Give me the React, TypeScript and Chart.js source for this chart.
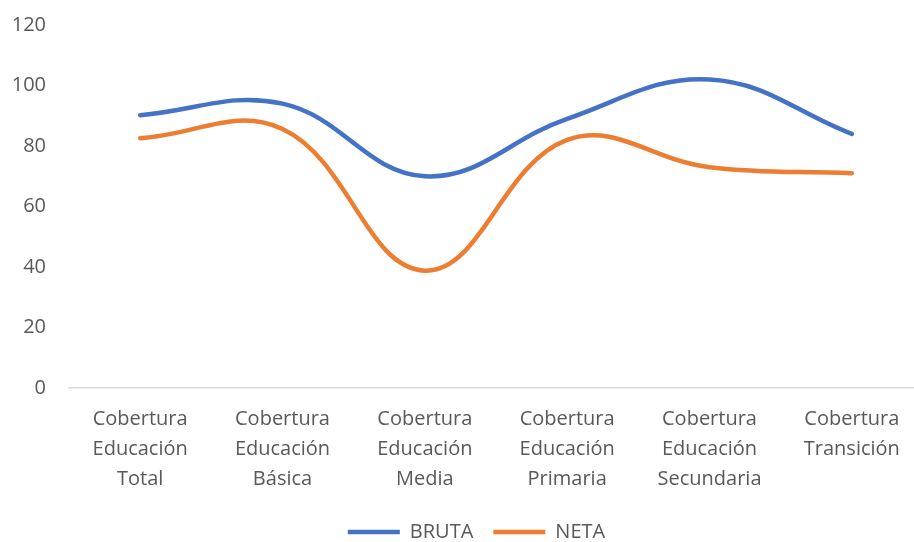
import React, { useEffect, useRef } from "react";
import { Chart, registerables } from "chart.js";

Chart.register(...registerables);

const categories: string[][] = [
  ["Cobertura", "Educación", "Total"],
  ["Cobertura", "Educación", "Básica"],
  ["Cobertura", "Educación", "Media"],
  ["Cobertura", "Educación", "Primaria"],
  ["Cobertura", "Educación", "Secundaria"],
  ["Cobertura", "Transición"],
];
const bruta: number[] = [90.2, 94, 70, 89, 102, 84];
const neta: number[] = [82.6, 85.6, 38.8, 82, 73, 71];
const yTicks: number[] = [0, 20, 40, 60, 80, 100, 120];

const FONT = "'Open Sans', 'Noto Sans', sans-serif";
const TEXT = "#595959";
const FS = 20;

export default function App() {
  const ref = useRef<HTMLCanvasElement | null>(null);
  useEffect(() => {
    if (!ref.current) return;
    const chart = new Chart(ref.current, {
      type: "line",
      data: {
        labels: categories,
        datasets: [
          {
            label: "BRUTA",
            data: bruta,
            borderColor: "#4472C4",
            backgroundColor: "#4472C4",
            borderWidth: 4.5,
            borderCapStyle: "round",
            pointRadius: 0,
            tension: 0.4,
            yAxisID: "y",
          },
          {
            label: "NETA",
            data: neta,
            borderColor: "#ED7D31",
            backgroundColor: "#ED7D31",
            borderWidth: 4.5,
            borderCapStyle: "round",
            pointRadius: 0,
            tension: 0.4,
            yAxisID: "y",
          },
        ],
      },
      options: {
        animation: false,
        responsive: false,
        maintainAspectRatio: false,
        layout: { padding: { top: 13, bottom: 0, left: 0, right: 0 } },
        plugins: {
          tooltip: { enabled: false },
          legend: {
            position: "bottom",
            labels: {
              usePointStyle: true,
              pointStyle: "line",
              pointStyleWidth: 52,
              padding: 20,
              color: TEXT,
              font: { family: FONT, size: FS },
            },
          },
        },
        scales: {
          x: {
            offset: true,
            grid: { display: false, drawTicks: false, offset: true },
            border: { display: true, color: "#D9D9D9", width: 1.5 },
            ticks: {
              color: TEXT,
              padding: 16,
              maxRotation: 0,
              autoSkip: false,
              font: { family: FONT, size: FS, lineHeight: 30 / FS },
            },
            afterFit: (s: any) => {
              s.height = 114;
            },
          },
          y: {
            min: 0,
            max: 120,
            afterBuildTicks: (s: any) => {
              s.ticks = yTicks.map((v) => ({ value: v }));
            },
            grid: { display: false, drawTicks: false },
            border: { display: false },
            ticks: {
              color: TEXT,
              padding: 23,
              font: { family: FONT, size: FS },
            },
            afterFit: (s: any) => {
              s.width = 69;
            },
          },
          y2: {
            position: "right",
            display: true,
            grid: { display: false, drawTicks: false },
            border: { display: false },
            ticks: { display: false },
            afterFit: (s: any) => {
              s.width = 30;
            },
          },
        },
      } as any,
    });
    return () => chart.destroy();
  }, []);
  return (
    <div
      style={{
        position: "fixed",
        left: 0,
        top: 0,
        width: 914,
        height: 542,
        overflow: "hidden",
        background: "#fff",
      }}
    >
      <canvas
        ref={ref}
        width={953}
        height={562}
        style={{ display: "block", width: 953, height: 562, marginTop: -10 }}
      />
    </div>
  );
}
